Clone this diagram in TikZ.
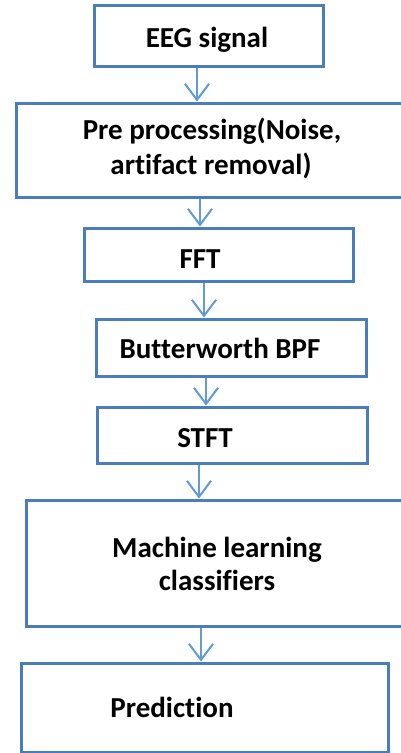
\documentclass[tikz,border=0pt]{standalone}
\usepackage{fontspec}
\setmainfont{Carlito}[Ligatures=NoCommon]
\usetikzlibrary{arrows.meta}
\definecolor{boxblue}{RGB}{74,126,187}
\definecolor{arrowblue}{RGB}{96,155,213}
\begin{document}
\begin{tikzpicture}[x=1pt,y=-1pt,
  box/.style={draw=boxblue,line width=3pt,fill=white,rectangle,inner sep=0pt},
  lbl/.style={anchor=base,inner sep=0pt,font=\fontsize{29}{34}\selectfont\bfseries},
  arr/.style={draw=arrowblue,line width=2pt,-{Straight Barb[length=16pt,width=24pt,line width=2pt]}}]
\useasboundingbox (0,0) rectangle (401,753);
\clip (0,0) rectangle (401,753);
\fill[white] (0,0) rectangle (401,753);
% process boxes
\node[box,minimum width=229pt,minimum height=61pt] (b1) at (208.5,35.5) {};
\node[box,minimum width=414pt,minimum height=94pt] (b2) at (223,150) {};
\node[box,minimum width=269pt,minimum height=53pt] (b3) at (218.5,254.5) {};
\node[box,minimum width=270pt,minimum height=57pt] (b4) at (231,347.5) {};
\node[box,minimum width=270pt,minimum height=56pt] (b5) at (232,435) {};
\node[box,minimum width=404pt,minimum height=126pt] (b6) at (228,563) {};
\node[box,minimum width=367pt,minimum height=89pt] (b7) at (204.5,707.5) {};
% box texts
\node[lbl] (t1) at (207,47) {EEG signal};
\node[lbl] (t2a) at (212,139) {Pre processing(Noise,};
\node[lbl] (t2b) at (211,174) {artifact removal)};
\node[lbl] (t3) at (200,268) {FFT};
\node[lbl] (t4) at (220,358) {Butterworth BPF};
\node[lbl] (t5) at (205,447) {STFT};
\node[lbl] (t6a) at (217,557) {Machine learning};
\node[lbl] (t6b) at (217,590) {classifiers};
\node[lbl] (t7) at (172,717) {Prediction};
% connectors
\draw[arr] ([xshift=-11.5pt]b1.south) -- ([xshift=-26pt]b2.north);
\draw[arr] ([xshift=-23pt]b2.south) -- ([xshift=-18.5pt]b3.north);
\draw[arr] ([xshift=-14.5pt]b3.south) -- ([xshift=-27pt]b4.north);
\draw[arr] ([xshift=-25pt]b4.south) -- ([xshift=-26pt]b5.north);
\draw[arr] ([xshift=-33pt]b5.south) -- ([xshift=-29pt]b6.north);
\draw[arr] ([xshift=-27pt]b6.south) -- ([xshift=-3.5pt]b7.north);
\end{tikzpicture}
\end{document}
